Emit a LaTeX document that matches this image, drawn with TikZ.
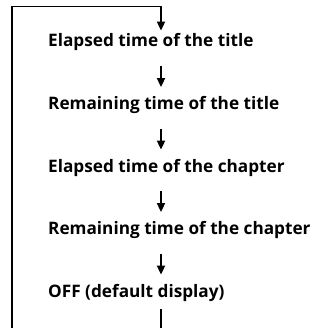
\documentclass[tikz,border=0pt]{standalone}
\usepackage{fontspec}
\setmainfont{Open Sans}
\usetikzlibrary{arrows.meta}
\begin{document}
\begin{tikzpicture}[x=1pt,y=-1pt,
  lbl/.style={anchor=base west,inner sep=0pt,text height=12.2pt,text depth=0pt,
    font=\bfseries\fontsize{17.2}{20}\selectfont},
  flow/.style={line width=1.8pt,-{Triangle[width=8pt,length=9pt]}},
  loopline/.style={line width=1.8pt}]
\useasboundingbox (0,0) rectangle (320,328);
\coordinate (ax) at (161,0);
\node[lbl] (t1) at (48,47) {Elapsed time of the title};
\node[lbl] (t2) at (48,109.5) {Remaining time of the title};
\node[lbl] (t3) at (48,172) {Elapsed time of the chapter};
\node[lbl] (t4) at (48,234.5) {Remaining time of the chapter};
\node[lbl] (t5) at (48,297) {OFF (default display)};
\coordinate (tl) at (12,6.5);
\coordinate (tr) at (161,6.5);
\coordinate (bl) at (12,330);
\coordinate (br) at (161,330);
\draw[loopline] (bl) -- (tl) -- (tr);
\draw[flow] (tr) -- ([yshift=4pt]t1.north -| ax);
\draw[flow] ([yshift=-19pt]t1.south -| ax) -- ([yshift=10pt]t2.north -| ax);
\draw[flow] ([yshift=-19pt]t2.south -| ax) -- ([yshift=10pt]t3.north -| ax);
\draw[flow] ([yshift=-19pt]t3.south -| ax) -- ([yshift=10pt]t4.north -| ax);
\draw[flow] ([yshift=-19pt]t4.south -| ax) -- ([yshift=10pt]t5.north -| ax);
\draw[loopline] ([yshift=-12pt]t5.south -| ax) -- (br);
\end{tikzpicture}
\end{document}
